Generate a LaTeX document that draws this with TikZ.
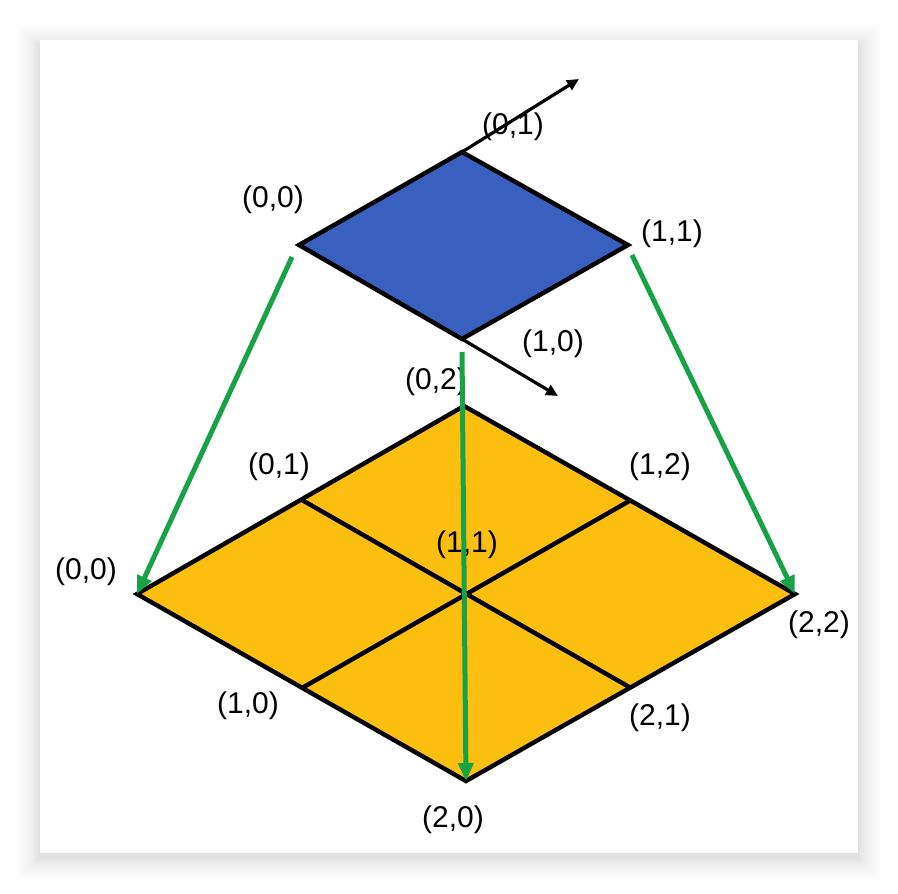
\documentclass[tikz,border=0pt]{standalone}
\usepackage{fontspec}
\setmainfont{Liberation Sans}
\usetikzlibrary{arrows.meta}

\definecolor{topblue}{RGB}{57,96,191}
\definecolor{gridyellow}{RGB}{252,191,16}
\definecolor{mapgreen}{RGB}{24,162,70}

\begin{document}
\begin{tikzpicture}[x=1pt,y=-1pt,
  lbl/.style={inner sep=0pt,font=\fontsize{30}{34}\selectfont},
  cell/.style={draw=black,line width=4.4pt,line join=miter},
  axis/.style={-{Triangle[length=12pt,width=11pt]},black,line width=3.2pt},
  map/.style={-{Triangle[length=18pt,width=15pt]},mapgreen,line width=5pt}]
  \useasboundingbox (0,0) rectangle (898,894);
  % card with soft shadow
  \foreach \i in {1,...,32}
    \fill[black,opacity={0.0075*(33-\i)/32}] (40-\i,40-\i+7) rectangle (858+\i,853+\i+4);
  \fill[white] (40,40) rectangle (858,853);
  % corners of the blue cell
  \coordinate (b00) at (299,245);
  \coordinate (b01) at (462,152);
  \coordinate (b11) at (628,245);
  \coordinate (b10) at (462,339);
  % corners of the yellow grid
  \coordinate (y00) at (137,594);
  \coordinate (y01) at (302,500);
  \coordinate (y02) at (464,406);
  \coordinate (y10) at (302,688);
  \coordinate (y11) at (466,594);
  \coordinate (y12) at (631,500);
  \coordinate (y20) at (466,781);
  \coordinate (y21) at (631,688);
  \coordinate (y22) at (795,594);
  % arrow ends
  \coordinate (ax1) at (579,79);
  \coordinate (ax2) at (558,396);
  \coordinate (g0) at (292,257);
  \coordinate (g1) at (632,255);
  \coordinate (g2) at (462,352);

  \filldraw[cell,fill=gridyellow] (y00) -- (y02) -- (y22) -- (y20) -- cycle;
  \draw[cell] (y01) -- (y21);
  \draw[cell] (y10) -- (y12);
  \filldraw[cell,fill=topblue] (b00) -- (b01) -- (b11) -- (b10) -- cycle;

  \node[lbl] (lb00) at (273,200) {(0,0)};
  \node[lbl] (lb01) at (513,127) {(0,1)};
  \node[lbl] (lb11) at (672,234) {(1,1)};
  \node[lbl] (lb10) at (553,344) {(1,0)};
  \node[lbl] (ly02) at (436,382) {(0,2)};
  \node[lbl] (ly01) at (279,467) {(0,1)};
  \node[lbl] (ly12) at (660,467) {(1,2)};
  \node[lbl] (ly00) at (86,572) {(0,0)};
  \node[lbl] (ly11) at (467,545) {(1,1)};
  \node[lbl] (ly22) at (819,625) {(2,2)};
  \node[lbl] (ly10) at (248,706) {(1,0)};
  \node[lbl] (ly21) at (660,718) {(2,1)};
  \node[lbl] (ly20) at (453,820) {(2,0)};

  \draw[axis] (b01) -- (ax1);
  \draw[axis] (b10) -- (ax2);
  \draw[map] (g0) -- (y00);
  \draw[map] (g1) -- (y22);
  \draw[map] (g2) -- (y20);
\end{tikzpicture}
\end{document}
